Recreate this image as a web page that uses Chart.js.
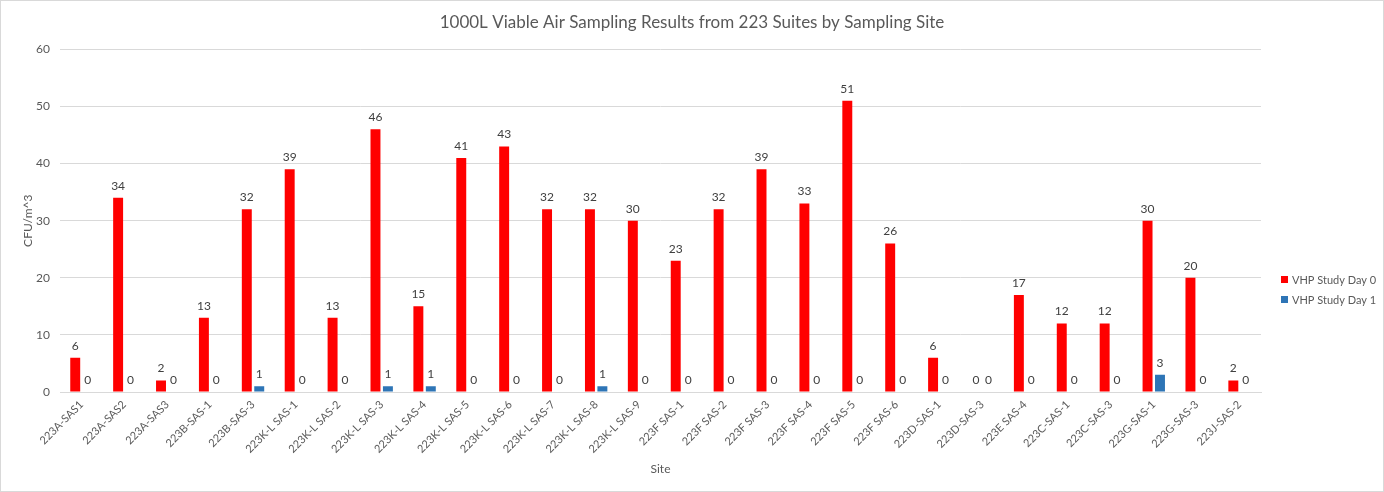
<!DOCTYPE html>
<html>
<head>
<meta charset="utf-8">
<script src="https://cdn.jsdelivr.net/npm/chart.js@4.4.1/dist/chart.umd.min.js"></script>
<style>
  body { margin: 0; background: #fff; }
  #wrap { width: 1384px; height: 492px; box-sizing: border-box; border: 1px solid #d9d9d9; }
</style>
</head>
<body>
<div id="wrap"><canvas id="myChart"></canvas></div>
<script>
const sites = [
  '223A-SAS1', '223A-SAS2', '223A-SAS3', '223B-SAS-1', '223B-SAS-3',
  '223K-L SAS-1', '223K-L SAS-2', '223K-L SAS-3', '223K-L SAS-4', '223K-L SAS-5',
  '223K-L SAS-6', '223K-L SAS-7', '223K-L SAS-8', '223K-L SAS-9',
  '223F SAS-1', '223F SAS-2', '223F SAS-3', '223F SAS-4', '223F SAS-5', '223F SAS-6',
  '223D-SAS-1', '223D-SAS-3', '223E SAS-4', '223C-SAS-1', '223C-SAS-3',
  '223G-SAS-1', '223G-SAS-3', '223J-SAS-2'
];
const day0 = [6, 34, 2, 13, 32, 39, 13, 46, 15, 41, 43, 32, 32, 30, 23, 32, 39, 33, 51, 26, 6, 0, 17, 12, 12, 30, 20, 2];
const day1 = [0, 0, 0, 0, 1, 0, 0, 1, 1, 0, 0, 0, 1, 0, 0, 0, 0, 0, 0, 0, 0, 0, 0, 0, 0, 3, 0, 0];
const yTicks = [0, 10, 20, 30, 40, 50, 60];

const FONT = 'Lato';
const GREY = '#595959';

// draws the value above each bar + the legend on the right
const labelsPlugin = {
  id: 'valueLabels',
  afterDatasetsDraw(chart) {
    const ctx = chart.ctx;
    ctx.save();
    ctx.font = '12px "' + FONT + '"';
    ctx.fillStyle = '#404040';
    ctx.textAlign = 'center';
    ctx.textBaseline = 'bottom';
    chart.data.datasets.forEach((ds, i) => {
      chart.getDatasetMeta(i).data.forEach((bar, j) => {
        ctx.fillText(String(ds.data[j]), bar.x, bar.y - 6);
      });
    });
    // legend
    const lx = chart.chartArea.right + 20;
    const ly = 279;
    ctx.font = '11px "' + FONT + '"';
    ctx.textAlign = 'left';
    ctx.textBaseline = 'middle';
    chart.data.datasets.forEach((ds, i) => {
      const y = ly + i * 20;
      ctx.fillStyle = ds.backgroundColor;
      ctx.fillRect(lx, y - 4, 7, 7);
      ctx.fillStyle = GREY;
      ctx.fillText(ds.label, lx + 11, y);
    });
    ctx.restore();
  }
};

const chart = new Chart(document.getElementById('myChart'), {
  type: 'bar',
  data: {
    labels: sites,
    datasets: [
      { label: 'VHP Study Day 0', data: day0, backgroundColor: '#ff0000', barPercentage: 0.8, categoryPercentage: 0.58 },
      { label: 'VHP Study Day 1', data: day1, backgroundColor: '#2e75b6', barPercentage: 0.8, categoryPercentage: 0.58 }
    ]
  },
  options: {
    responsive: true,
    maintainAspectRatio: false,
    animation: false,
    layout: { padding: 0 },
    plugins: {
      legend: { display: false },
      tooltip: { enabled: false },
      title: {
        display: true,
        text: '1000L Viable Air Sampling Results from 223 Suites by Sampling Site',
        color: GREY,
        font: { family: FONT, size: 17, weight: 'normal' },
        padding: { top: 11, bottom: 17 }
      }
    },
    scales: {
      x: {
        grid: { display: false, drawTicks: false },
        border: { color: '#d9d9d9' },
        ticks: { color: GREY, font: { family: FONT, size: 11 }, minRotation: 45, maxRotation: 45, padding: 6, autoSkip: false },
        title: { display: true, text: 'Site', color: GREY, font: { family: FONT, size: 12 }, padding: { top: 0, bottom: 15 } },
        afterFit(scale) { scale.height = 99; }
      },
      y: {
        min: 0,
        max: 60,
        afterBuildTicks(scale) { scale.ticks = yTicks.map(v => ({ value: v })); },
        grid: { color: '#d9d9d9', drawTicks: false },
        border: { display: false },
        ticks: { color: GREY, font: { family: FONT, size: 12 }, padding: 10 },
        title: { display: true, text: 'CFU/m^3', color: GREY, font: { family: FONT, size: 12 }, padding: { top: 20, bottom: 0 } },
        afterFit(scale) { scale.width = 59; }
      },
      // empty axis that only keeps room for the legend on the right
      legendSpace: {
        position: 'right',
        grid: { display: false, drawTicks: false },
        border: { display: false },
        ticks: { display: false },
        afterFit(scale) { scale.width = 122; }
      }
    }
  },
  plugins: [labelsPlugin]
});
</script>
</body>
</html>
